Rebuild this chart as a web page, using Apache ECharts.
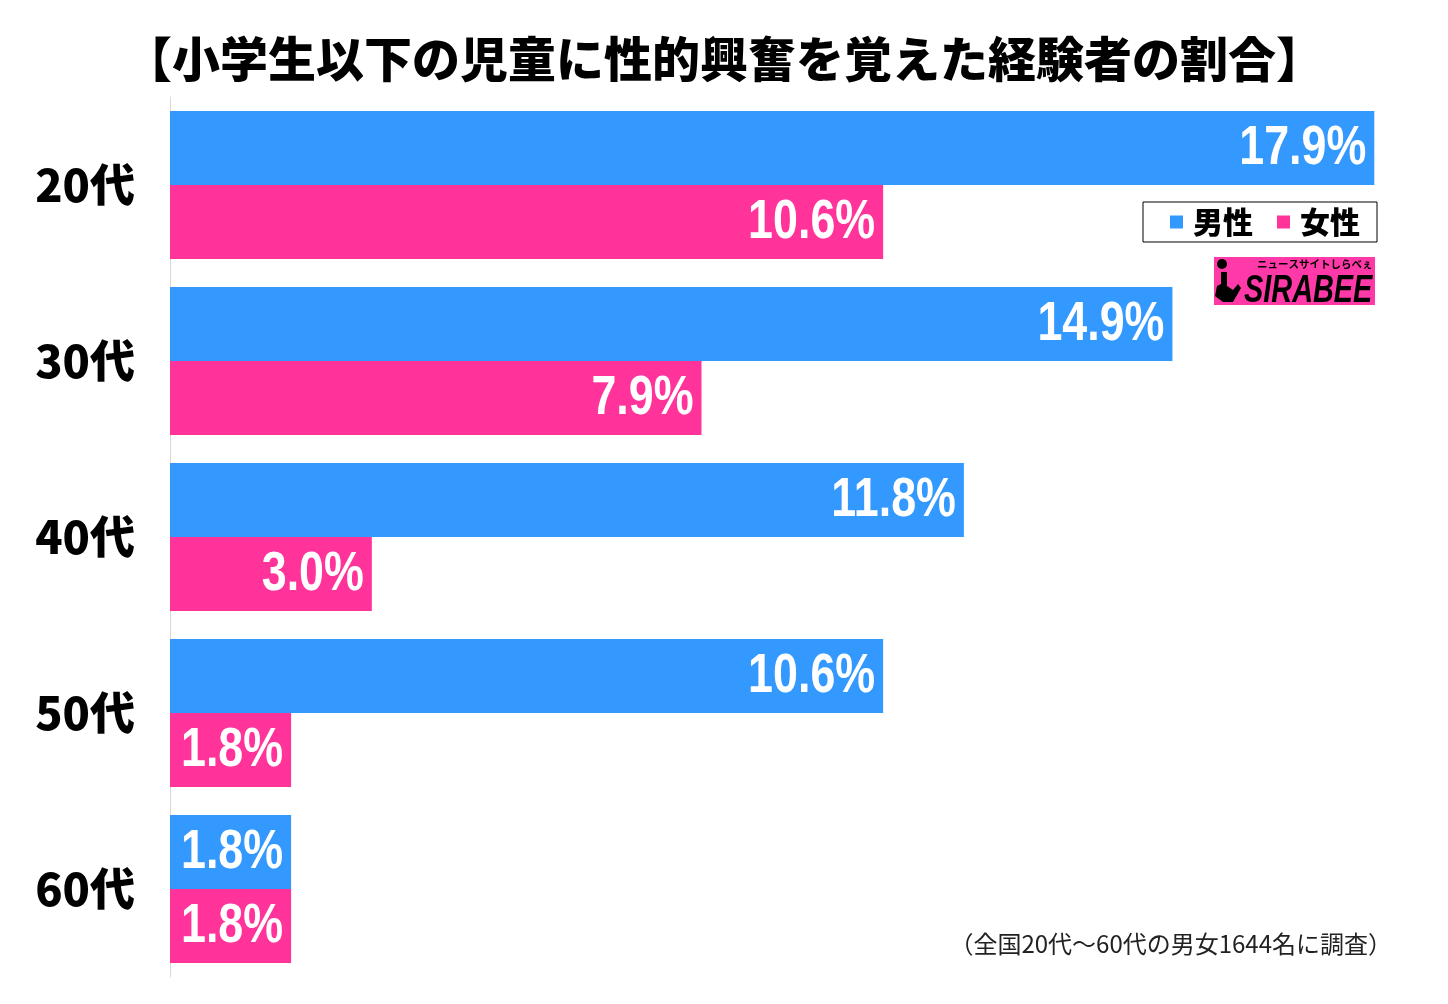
<!DOCTYPE html>
<html><head><meta charset="utf-8">
<script src="https://cdn.jsdelivr.net/npm/echarts@6/dist/echarts.min.js"></script>
<style>html,body{margin:0;padding:0;background:#fff}#c{width:1448px;height:1004px}</style>
</head><body><div id="c"></div>
<script>
const categories = ['20代','30代','40代','50代','60代'];
const maleValues = [17.9, 14.9, 11.8, 10.6, 1.8];
const femaleValues = [10.6, 7.9, 3.0, 1.8, 1.8];
const seriesNames = ['男性','女性'];
const titleText = '【小学生以下の児童に性的興奮を覚えた経験者の割合】';
const noteText = '（全国20代〜60代の男女1644名に調査）';

const chart = echarts.init(document.getElementById('c'));
const GAP = 0.16;
function labelSeries(values, side) {
  return {
    type: 'custom', silent: true, z: 5,
    encode: {x: 0, y: 1},
    data: values.map((v, i) => [v, i]),
    renderItem: function (params, api) {
      const v = api.value(0);
      const pt = api.coord([v, api.value(1)]);
      const band = api.size([0, 1])[1];
      const bw = band * (1 - GAP) / 2;
      const cy = pt[1] + side * bw / 2;
      return {
        type: 'text', x: pt[0] - 8, y: cy + 1, scaleX: 0.8, scaleY: 1,
        style: {
          text: v.toFixed(1) + '%', fill: '#fff', align: 'right', verticalAlign: 'middle',
          font: 'bold 56px "Liberation Sans", Arial, sans-serif'
        }
      };
    }
  };
}
chart.setOption({
  animation: false,
  title: {
    text: titleText, left: 'center', top: 30,
    textStyle: {fontFamily: '"Noto Sans CJK JP", sans-serif', fontWeight: 900, fontSize: 48, color: '#000'}
  },
  legend: {
    data: seriesNames, right: 71, top: 202, orient: 'horizontal',
    icon: 'rect', itemWidth: 13, itemHeight: 13, itemGap: 24,
    borderColor: '#000', borderWidth: 1, padding: [5, 17, 5, 27],
    textStyle: {fontFamily: '"Noto Sans CJK JP", sans-serif', fontWeight: 900, fontSize: 30, color: '#000', padding: [0, 0, 0, 5]}
  },
  grid: {left: 170, right: 67, top: 97, bottom: 27, containLabel: false},
  xAxis: {type: 'value', min: 0, max: 18, show: false},
  yAxis: {
    type: 'category', data: categories, inverse: true,
    axisLine: {show: true, lineStyle: {color: '#d9d9d9', width: 1}},
    axisTick: {show: false},
    axisLabel: {margin: 35, color: '#000', fontFamily: '"Noto Sans CJK JP", sans-serif', fontWeight: 900, fontSize: 45}
  },
  series: [
    {name: seriesNames[0], type: 'bar', data: maleValues, barGap: '0%', barCategoryGap: (GAP * 100) + '%',
     itemStyle: {color: '#3399ff'}},
    {name: seriesNames[1], type: 'bar', data: femaleValues,
     itemStyle: {color: '#ff3399'}},
    labelSeries(maleValues, -1),
    labelSeries(femaleValues, 1)
  ],
  graphic: [
    {type: 'text', right: 56, top: 932, style: {text: noteText, fill: '#222', font: '24px "Noto Sans CJK JP", sans-serif'}},
    {type: 'rect', left: 1214, top: 257, shape: {width: 161, height: 48}, style: {fill: '#ff3aa8'}},
    {type: 'text', left: 1257, top: 259, style: {text: 'ニュースサイトしらべぇ', fill: '#000', font: 'bold 10.5px "Noto Sans CJK JP", sans-serif'}},
    {type: 'text', x: 1244, y: 311, scaleX: 0.76, style: {text: 'SIRABEE', fill: '#000', verticalAlign: 'bottom', font: 'italic bold 38px "Liberation Sans", sans-serif'}},
    {type: 'circle', left: 1217, top: 259, shape: {r: 5}, style: {fill: '#000'}},
    {type: 'polygon', left: 1215, top: 272, shape: {points: [[6,0],[12,0],[12,14],[18,18],[23,12],[26,16],[18,30],[8,30],[0,24],[2,14],[6,12]]}, style: {fill: '#000'}}
  ]
});
</script></body></html>
